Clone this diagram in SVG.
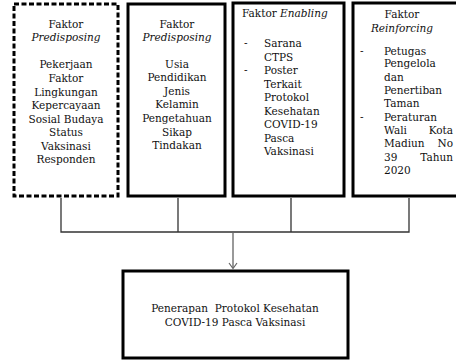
<svg xmlns="http://www.w3.org/2000/svg" width="456" height="362" viewBox="0 0 456 362">
<style>
.box{fill:#fff;stroke:#000;stroke-width:3}
.dash{stroke-dasharray:5 2.5}
.t{font-family:"DejaVu Serif","Liberation Serif",serif;font-size:10.5px;fill:#111}
.c{text-anchor:middle}
.r{text-anchor:end}
.i{font-style:italic}
.ln{fill:none;stroke:#333;stroke-width:1.3}
.ar{fill:none;stroke:#999;stroke-width:2}
</style>
<g id="connectors">
<path class="ln" d="M61 198V232H409V198M178 198V232M291 198V232"/>
<path class="ar" d="M233 233V268"/>
<path d="M229 263L233 268.5L237 263" fill="none" stroke="#666" stroke-width="1.2"/>
</g>
<g id="n1">
<rect class="box dash" x="14" y="4" width="104" height="192"/>
<text class="t c" x="66"><tspan x="66" y="28">Faktor</tspan><tspan x="66" y="41" class="i">Predisposing</tspan><tspan x="66" y="68">Pekerjaan</tspan><tspan x="66" y="82">Faktor</tspan><tspan x="66" y="96">Lingkungan</tspan><tspan x="66" y="109">Kepercayaan</tspan><tspan x="66" y="123">Sosial Budaya</tspan><tspan x="66" y="136">Status</tspan><tspan x="66" y="150">Vaksinasi</tspan><tspan x="66" y="163">Responden</tspan></text>
</g>
<g id="n2">
<rect class="box" x="128" y="4" width="97" height="192"/>
<text class="t c"><tspan x="177" y="28">Faktor</tspan><tspan x="177" y="41" class="i">Predisposing</tspan><tspan x="177" y="68">Usia</tspan><tspan x="177" y="81">Pendidikan</tspan><tspan x="177" y="95">Jenis</tspan><tspan x="177" y="108">Kelamin</tspan><tspan x="177" y="122">Pengetahuan</tspan><tspan x="177" y="136">Sikap</tspan><tspan x="177" y="149">Tindakan</tspan></text>
</g>
<g id="n3">
<rect class="box" x="233" y="3" width="111" height="193"/>
<text class="t" x="242" y="17">Faktor <tspan class="i">Enabling</tspan></text>
<text class="t"><tspan x="244" y="47">-</tspan><tspan x="244" y="74">-</tspan></text>
<text class="t"><tspan x="264" y="47">Sarana</tspan><tspan x="264" y="61">CTPS</tspan><tspan x="264" y="74">Poster</tspan><tspan x="264" y="88">Terkait</tspan><tspan x="264" y="101">Protokol</tspan><tspan x="264" y="115">Kesehatan</tspan><tspan x="264" y="128">COVID-19</tspan><tspan x="264" y="142">Pasca</tspan><tspan x="264" y="155">Vaksinasi</tspan></text>
</g>
<g id="n4">
<rect class="box" x="353" y="3" width="106" height="193"/>
<text class="t c"><tspan x="402" y="18">Faktor</tspan><tspan x="402" y="32" class="i">Reinforcing</tspan></text>
<text class="t"><tspan x="360" y="55">-</tspan><tspan x="360" y="121">-</tspan></text>
<text class="t"><tspan x="384" y="55">Petugas</tspan><tspan x="384" y="67">Pengelola</tspan><tspan x="384" y="81">dan</tspan><tspan x="384" y="94">Penertiban</tspan><tspan x="384" y="107">Taman</tspan><tspan x="384" y="121">Peraturan</tspan><tspan x="384" y="134">Wali</tspan><tspan x="384" y="147">Madiun</tspan><tspan x="384" y="161">39</tspan><tspan x="384" y="174">2020</tspan></text>
<text class="t r"><tspan x="453" y="134">Kota</tspan><tspan x="453" y="147">No</tspan><tspan x="453" y="161">Tahun</tspan></text>
</g>
<g id="n5">
<rect class="box" x="123" y="271" width="225" height="87"/>
<text class="t c" style="white-space:pre"><tspan x="235" y="312">Penerapan  Protokol Kesehatan</tspan><tspan x="235" y="326">COVID-19 Pasca Vaksinasi</tspan></text>
</g>
</svg>
